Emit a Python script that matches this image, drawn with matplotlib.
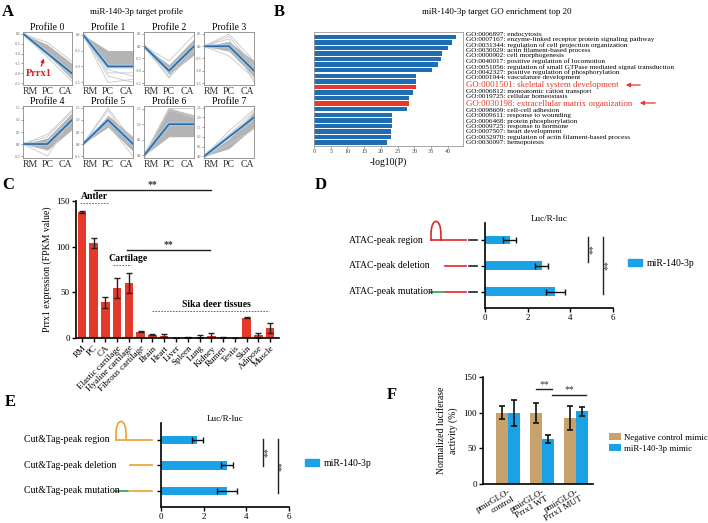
import numpy as np
import matplotlib
matplotlib.use("Agg")
import matplotlib.pyplot as plt
from matplotlib.patches import Patch

plt.rcParams['font.family'] = ['Liberation Serif', 'DejaVu Serif']
plt.rcParams['axes.linewidth'] = 0.8

W, H, DPI = 708, 523, 100
fig = plt.figure(figsize=(W / DPI, H / DPI), dpi=DPI)


def box(x0, y0, x1, y1):
    return fig.add_axes([x0 / W, 1 - y1 / H, (x1 - x0) / W, (y1 - y0) / H])


def ftext(x, y, s, **kw):
    return fig.text(x / W, 1 - y / H, s, **kw)


# ---------------- data ----------------
stages = ['RM', 'PC', 'CA']
profile_model = [[0, -1, -2], [0, -1, -1], [0, -1, 0], [0, 0, -1],
                 [0, 0, 1], [0, 1, 0], [0, 1, 1], [0, 1, 2]]
profile_band_lo = [[0, -1.05, -2.3], [0, -1.0, -1.0], [0, -1.15, -0.35], [0, -0.2, -1.25],
                   [0, -0.25, 0.6], [0, 0.7, -0.3], [0, 0.6, 0.6], [0, 0.4, 1.5]]
profile_band_hi = [[0, -0.55, -1.5], [0, -0.5, -0.5], [0, -0.75, 0.3], [0, 0.2, -0.6],
                   [0, 0.25, 1.3], [0, 1.2, 0.3], [0, 1.5, 1.3], [0, 0.9, 2.3]]
profile_extra = [
    [[0, -1.2, -2.4], [0, -0.9, -2.2], [0, -0.45, -1.4]],
    [[0, -1.5, -1.4], [0, -1.3, -1.5], [0, -1.2, -1.2], [0, -1.1, -1.3]],
    [[0, -1.25, 0.1], [0, -1.3, -0.2], [0, -0.6, 0.45]],
    [[0, 0.5, -0.6], [0, 0.4, -0.8], [0, -0.4, -1.3], [0, 0.3, -1.45]],
    [[0, 0.4, 1.4], [0, -0.5, 1.1], [0, 0.3, 1.35]],
    [[0, 1.5, 0.1], [0, 1.4, -0.1], [0, 0.8, -0.5]],
    [[0, 1.5, 1.5], [0, 1.5, 1.25], [0, 1.45, 1.2]],
    [[0, 1.3, 2.4], [0, 1.1, 2.3], [0, 0.6, 1.4]],
]
profile_yticks = [[0.0, -0.5, -1.0, -1.5, -2.0, -2.5], [0.0, -0.5, -1.0, -1.5],
                  [0.5, 0.0, -0.5, -1.0, -1.5], [0.5, 0.0, -0.5, -1.0, -1.5],
                  [1.5, 1.0, 0.5, 0.0, -0.5], [1.5, 1.0, 0.5, 0.0, -0.5],
                  [1.5, 1.0, 0.5, 0.0], [2.5, 2.0, 1.5, 1.0, 0.5, 0.0]]

go_terms = ['GO:0006897: endocytosis',
            'GO:0007167: enzyme-linked receptor protein signaling pathway',
            'GO:0031344: regulation of cell projection organization',
            'GO:0030029: actin filament-based process',
            'GO:0000902: cell morphogenesis',
            'GO:0040017: positive regulation of locomotion',
            'GO:0051056: regulation of small GTPase mediated signal transduction',
            'GO:0042327: positive regulation of phosphorylation',
            'GO:0001944: vasculature development',
            'GO:0001501: skeletal system development',
            'GO:0006812: monoatomic cation transport',
            'GO:0019725: cellular homeostasis',
            'GO:0030198: extracellular matrix organization',
            'GO:0098609: cell-cell adhesion',
            'GO:0009611: response to wounding',
            'GO:0006468: protein phosphorylation',
            'GO:0009725: response to hormone',
            'GO:0007507: heart development',
            'GO:0032970: regulation of actin filament-based process',
            'GO:0030097: hemopoiesis']
go_logp = [42.5, 41.3, 40.1, 38.1, 38.0, 37.0, 35.3, 30.4, 30.4, 30.4,
           29.5, 28.5, 28.3, 27.7, 23.4, 23.3, 23.2, 23.0, 22.9, 21.9]
go_highlight = ['GO:0001501: skeletal system development',
                'GO:0030198: extracellular matrix organization']

tissues = ['RM', 'PC', 'CA', 'Elastic cartilage', 'Hyaline cartilage', 'Fibrous cartilage',
           'Brain', 'Heart', 'Liver', 'Spleen', 'Lung', 'Kidney', 'Rumen', 'Testis',
           'Skin', 'Adipose', 'Muscle']
prrx1_fpkm = [138, 104, 39, 55, 60, 7, 3.5, 2.5, 0, 1, 1.5, 2, 0.5, 0.3, 22, 3, 11]
prrx1_err = [1, 5, 6, 11, 11, 0.5, 0.5, 1.5, 0, 0.5, 2, 3, 0.3, 0.2, 0.5, 2.5, 5]

atac_labels = ['ATAC-peak region', 'ATAC-peak deletion', 'ATAC-peak mutation']
atac_vals = [1.15, 2.65, 3.3]
atac_err = [0.32, 0.3, 0.45]

cut_labels = ['Cut&Tag-peak region', 'Cut&Tag-peak deletion', 'Cut&Tag-peak mutation']
cut_vals = [1.7, 3.1, 3.1]
cut_err = [0.25, 0.27, 0.47]

f_groups = ['pmirGLO-\ncontrol', 'pmirGLO-\nPrrx1 WT', 'pmirGLO-\nPrrx1 MUT']
f_nc = [100, 100, 93]
f_nc_err = [9, 14, 17]
f_mir = [100, 63, 102]
f_mir_err = [18, 5, 6]

# colours
C_RED = '#E5392A'
C_BLUE = '#1BA1E6'
C_GO = '#1F6DB3'
C_BROWN = '#C8A26C'
C_PROF = '#2E6AA3'

# ---------------- panel labels ----------------
for lab, x, y in [('A', 8, 12), ('B', 279, 12), ('C', 8, 185), ('D', 321, 185),
                  ('E', 10, 402), ('F', 392, 395)]:
    ftext(x, y, lab, fontsize=12, fontweight='bold', va='center', ha='center')

# ---------------- panel A ----------------
ftext(137, 12, 'miR-140-3p target profile', fontsize=6.5, ha='center', va='center')
xs = [0, 1, 2]
cols = [(23, 72), (83, 133), (144, 194), (204, 254)]
rows = [(32, 85), (106, 158)]
for i in range(8):
    r, c = divmod(i, 4)
    ax = box(cols[c][0], rows[r][0], cols[c][1], rows[r][1])
    ax.fill_between(xs, profile_band_lo[i], profile_band_hi[i], color='#B4B4B4', lw=0)
    for ln in profile_extra[i]:
        ax.plot(xs, ln, color='#C8C8C8', lw=0.6)
    ax.plot(xs, profile_model[i], color='#A9CFEA', lw=3.0, alpha=0.7)
    ax.plot(xs, profile_model[i], color=C_PROF, lw=1.2)
    yt = profile_yticks[i]
    ax.set_ylim(min(yt) - 0.08, max(yt) + 0.08)
    ax.set_xlim(0, 2)
    ax.set_yticks(yt)
    ax.set_yticklabels([f'{v:.1f}' for v in yt], fontsize=2.6, color='#555555')
    ax.tick_params(axis='y', length=1.2, width=0.4, pad=0.8, colors='#555555')
    ax.set_xticks(xs)
    ax.set_xticklabels(stages, fontsize=7, color='#333333')
    xl = ax.get_xticklabels()
    xl[0].set_ha('left')
    xl[2].set_ha('right')
    ax.tick_params(axis='x', length=0, pad=1.5)
    for s in ax.spines.values():
        s.set_color('#888888')
        s.set_linewidth(0.6)
    ax.set_title(f'Profile {i}', fontsize=7, pad=1.5)
    if i == 0:
        ax.annotate('Prrx1', xy=(0.85, -1.25), xytext=(0.65, -2.0), color='#D8202A',
                    fontsize=7.5, fontweight='bold', ha='center', va='center',
                    arrowprops=dict(arrowstyle='-|>', color='#D8202A', lw=0.9,
                                    mutation_scale=5, shrinkA=0, shrinkB=0))

# ---------------- panel B ----------------
ftext(497, 12, 'miR-140-3p target GO enrichment top 20', fontsize=6.5, ha='center', va='center')
axb = box(314, 32, 463, 146)
ypos = np.arange(len(go_terms))
bcolors = [C_RED if t in go_highlight else C_GO for t in go_terms]
axb.barh(ypos, go_logp, height=0.8, color=bcolors)
axb.set_ylim(len(go_terms) - 0.4, -0.86)
axb.set_xlim(0, 44.5)
axb.set_xticks(np.arange(0, 45, 5))
axb.tick_params(axis='x', labelsize=4.5, length=1.5, width=0.4, pad=1, colors='#444444')
axb.set_yticks([])
for s in axb.spines.values():
    s.set_color('#999999')
    s.set_linewidth(0.6)
axb.set_xlabel('-log10(P)', fontsize=7, labelpad=2)
yy = 34.3
prev_red = False
for k, t in enumerate(go_terms):
    red = t in go_highlight
    if k > 0:
        yy += 7.2 if red else (6.5 if prev_red else 5.4)
    ftext(466, yy, t, fontsize=6.3 if red else 5.2, color=C_RED if red else 'black',
          ha='left', va='center')
    prev_red = red
for (x_tail, x_head, y) in [(643, 623, 85), (658, 637, 103)]:
    fig.add_artist(matplotlib.patches.FancyArrowPatch(
        (x_tail / W, 1 - y / H), (x_head / W, 1 - y / H), transform=fig.transFigure,
        arrowstyle='-|>', mutation_scale=6, color=C_RED, lw=0.9))

# ---------------- panel C ----------------
axc = box(76, 201, 279, 338)
xi = np.arange(len(tissues))
axc.bar(xi, prrx1_fpkm, width=0.72, color=C_RED, yerr=prrx1_err,
        error_kw=dict(ecolor='#222222', elinewidth=1.0, capsize=2, capthick=1.0))
axc.set_xlim(-0.5, 16.75)
axc.set_ylim(0, 150)
axc.set_yticks([0, 50, 100, 150])
axc.set_xticks(xi)
axc.set_xticklabels(tissues, rotation=45, ha='right', rotation_mode='anchor', fontsize=6.5)
axc.tick_params(labelsize=6.5, width=1.0, length=3, pad=1.5)
axc.spines['top'].set_visible(False)
axc.spines['right'].set_visible(False)
axc.spines['left'].set_linewidth(1.2)
axc.spines['bottom'].set_linewidth(1.2)
axc.set_ylabel('Prrx1 expression (FPKM value)', fontsize=7, labelpad=3)
# significance and group annotations
axc.plot([1, 11], [162, 162], color='#222222', lw=1.0, clip_on=False)
axc.text(6, 163, '**', ha='center', va='bottom', fontsize=7, fontweight='bold', color='#333333')
axc.plot([3.8, 10.9], [96, 96], color='#222222', lw=1.0, clip_on=False)
axc.text(7.35, 97, '**', ha='center', va='bottom', fontsize=7, fontweight='bold', color='#333333')
axc.plot([-0.16, 2.2], [148, 148], ls=(0, (2, 1.5)), color='#555555', lw=0.6, clip_on=False)
axc.text(1.1, 150, 'Antler', ha='center', va='bottom', fontsize=7, fontweight='bold')
axc.plot([2.64, 4.16], [80, 80], ls=(0, (2, 1.5)), color='#555555', lw=0.6)
axc.text(3.9, 82, 'Cartilage', ha='center', va='bottom', fontsize=7, fontweight='bold')
axc.plot([5.94, 15.94], [29.6, 29.6], ls=(0, (2, 1.5)), color='#555555', lw=0.6)
axc.text(11.45, 32, 'Sika deer tissues', ha='center', va='bottom', fontsize=7, fontweight='bold')


# ---------------- panels D and E ----------------
def luc_panel(rect, labels, vals, errs, line_col, diag, label_x, sig, sig_txt, leg_xy):
    ax = box(*rect)
    yi = np.arange(len(labels))
    ax.barh(yi, vals, height=0.34, color=C_BLUE, xerr=errs,
            error_kw=dict(ecolor='#111111', elinewidth=1.0, capsize=2.5, capthick=1.0))
    ax.set_ylim(2.63, -0.66)
    ax.set_xlim(0, 6)
    ax.set_xticks([0, 2, 4, 6])
    ax.set_yticks(yi)
    ax.set_yticklabels([])
    ax.tick_params(labelsize=6.5, width=1.0, length=3, pad=1.5)
    ax.spines['top'].set_visible(False)
    ax.spines['right'].set_visible(False)
    ax.spines['left'].set_linewidth(1.2)
    ax.spines['bottom'].set_linewidth(1.2)
    ax.set_title('Luc/R-luc', fontsize=6.5, pad=0)
    tr = ax.get_yaxis_transform()
    for k, lab in enumerate(labels):
        ax.text(label_x, k, lab, transform=tr, fontsize=7, ha='left', va='center')
    # construct diagrams
    arch_x0, arch_x1, line_end, dash = diag['arch_x0'], diag['arch_x1'], diag['line_end'], diag['dash']
    t = np.linspace(0, np.pi, 40)
    cx = (arch_x0 + arch_x1) / 2
    rx = (arch_x1 - arch_x0) / 2
    ax.plot(cx - rx * np.cos(t), 0 - 0.72 * np.sin(t) ** 0.6, transform=tr, color=line_col,
            lw=1.2, clip_on=False)
    ax.plot([arch_x0, line_end], [0, 0], transform=tr, color=line_col, lw=1.2, clip_on=False)
    ax.plot([diag['del_x0'], line_end], [1, 1], transform=tr, color=line_col, lw=1.2, clip_on=False)
    ax.plot([diag['mut_x0'], line_end], [2, 2], transform=tr, color=line_col, lw=1.2, clip_on=False)
    ax.plot([arch_x0 - 0.005, diag['green_end']], [2, 2], transform=tr, color='#2E9E4F', lw=1.2,
            clip_on=False)
    if dash is not None:
        for k in range(3):
            ax.plot(dash, [k, k], transform=tr, color='#222222', lw=1.2, clip_on=False)
    for (x, y0, y1), (tx, ty) in zip(sig, sig_txt):
        ax.plot([x, x], [y0, y1], color='#222222', lw=1.0, clip_on=False)
        ax.text(tx, ty, '**', rotation=90, ha='center', va='center', fontsize=7, color='#333333')
    ax.legend(handles=[Patch(color=C_BLUE, label='miR-140-3p')], loc='center left',
              bbox_to_anchor=(leg_xy[0] / W, 1 - leg_xy[1] / H), bbox_transform=fig.transFigure,
              frameon=False, fontsize=7, handlelength=1.4, handleheight=0.7, borderpad=0,
              borderaxespad=0, handletextpad=0.5)
    return ax


luc_panel((485, 223, 613, 308), atac_labels, atac_vals, atac_err, '#E0262B',
          dict(arch_x0=-0.422, arch_x1=-0.344, line_end=-0.148, dash=[-0.125, -0.0625],
               del_x0=-0.3125, mut_x0=-0.3125, green_end=-0.32),
          -1.06, [(4.83, -0.12, 0.86), (5.53, -0.12, 2.08)], [(5.05, 0.37), (5.75, 0.98)],
          (628, 263))

luc_panel((161, 423, 289, 507), cut_labels, cut_vals, cut_err, '#F0A02C',
          dict(arch_x0=-0.352, arch_x1=-0.273, line_end=-0.07, dash=None,
               del_x0=-0.242, mut_x0=-0.242, green_end=-0.258),
          -1.07, [(4.77, -0.04, 1.04), (5.47, -0.04, 2.08)], [(5.0, 0.5), (5.7, 1.04)],
          (305, 463))

# ---------------- panel F ----------------
axf = box(483, 377, 593, 484)
gx = np.arange(len(f_groups))
bw = 0.34
ekw = dict(ecolor='#111111', elinewidth=1.2, capsize=2.5, capthick=1.2)
axf.bar(gx - bw / 2, f_nc, width=bw, color=C_BROWN, yerr=f_nc_err, error_kw=ekw,
        label='Negative control mimic')
axf.bar(gx + bw / 2, f_mir, width=bw, color=C_BLUE, yerr=f_mir_err, error_kw=ekw,
        label='miR-140-3p mimic')
axf.set_xlim(-0.735, 2.5)
axf.set_ylim(0, 150)
axf.set_yticks([0, 50, 100, 150])
axf.set_xticks(gx)
axf.set_xticklabels(f_groups, rotation=30, ha='right', rotation_mode='anchor', fontsize=6.5,
                    linespacing=0.95)
axf.tick_params(labelsize=6.5, width=1.0, length=3, pad=1.5)
axf.tick_params(axis='x', length=0, pad=3)
axf.spines['top'].set_visible(False)
axf.spines['right'].set_visible(False)
axf.spines['left'].set_linewidth(1.2)
axf.spines['bottom'].set_linewidth(1.2)
axf.set_ylabel('Normalized luciferase\nactivity (%)', fontsize=7, labelpad=4, linespacing=1.3)
axf.plot([0.83, 1.3], [133, 133], color='#222222', lw=1.0, clip_on=False)
axf.text(1.07, 133.5, '**', ha='center', va='bottom', fontsize=7, color='#333333')
axf.plot([1.3, 2.3], [125, 125], color='#222222', lw=1.0, clip_on=False)
axf.text(1.8, 125.5, '**', ha='center', va='bottom', fontsize=7, color='#333333')
axf.legend(loc='center left', bbox_to_anchor=(609 / W, 1 - 443 / H), bbox_transform=fig.transFigure,
           frameon=False, fontsize=6.3, handlelength=1.4, handleheight=0.75, borderpad=0,
           borderaxespad=0, handletextpad=0.35, labelspacing=0.3)

fig.savefig('out.png', dpi=DPI)
